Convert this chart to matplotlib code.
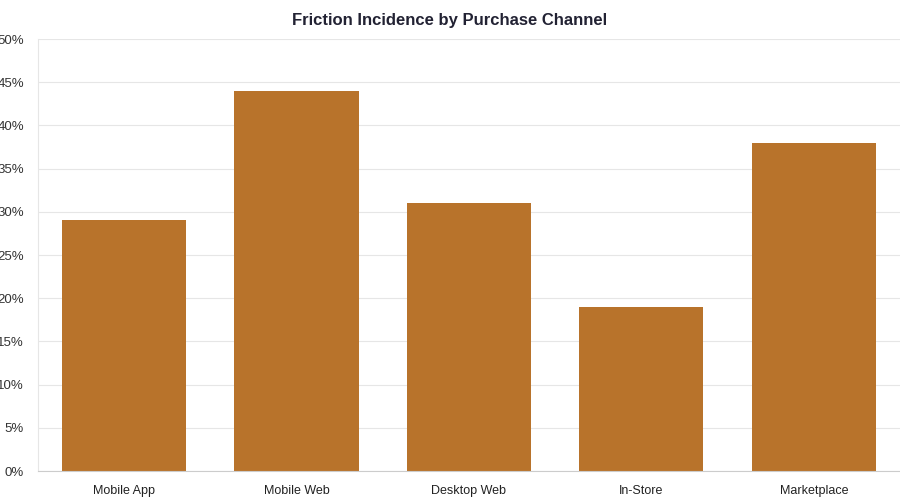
import matplotlib.pyplot as plt
from matplotlib.ticker import PercentFormatter

channels = ["Mobile App", "Mobile Web", "Desktop Web", "In-Store\n(Digital Kiosk)", "Marketplace\n(3rd Party)"]
friction = [29, 44, 31, 19, 38]

plt.rcParams['font.family'] = ['Liberation Sans', 'DejaVu Sans']

fig = plt.figure(figsize=(9, 5), dpi=100)
ax = fig.add_axes([0.042, 0.058, 0.958, 0.864])
ax.bar(range(len(channels)), friction, width=0.72, color="#B8732B", zorder=2)
ax.set_xlim(-0.5, len(channels) - 0.5)
ax.set_ylim(0, 50)
ax.set_yticks(range(0, 51, 5))
ax.yaxis.set_major_formatter(PercentFormatter(decimals=0))
ax.set_xticks(range(len(channels)))
ax.set_xticklabels(channels, fontsize=9, color="#222222", va="top", linespacing=1.6)
ax.tick_params(axis="y", labelsize=9.5, colors="#333333", length=0, pad=10)
ax.tick_params(axis="x", length=0, pad=10)
ax.grid(axis="y", color="#e6e6e6", linewidth=0.8, zorder=0)
for s in ["top", "right"]:
    ax.spines[s].set_visible(False)
ax.spines["left"].set_color("#e6e6e6")
ax.spines["bottom"].set_color("#cccccc")
fig.suptitle("Friction Incidence by Purchase Channel", fontsize=12, fontweight="bold",
             color="#222233", y=0.975)
fig.savefig("out.png")
